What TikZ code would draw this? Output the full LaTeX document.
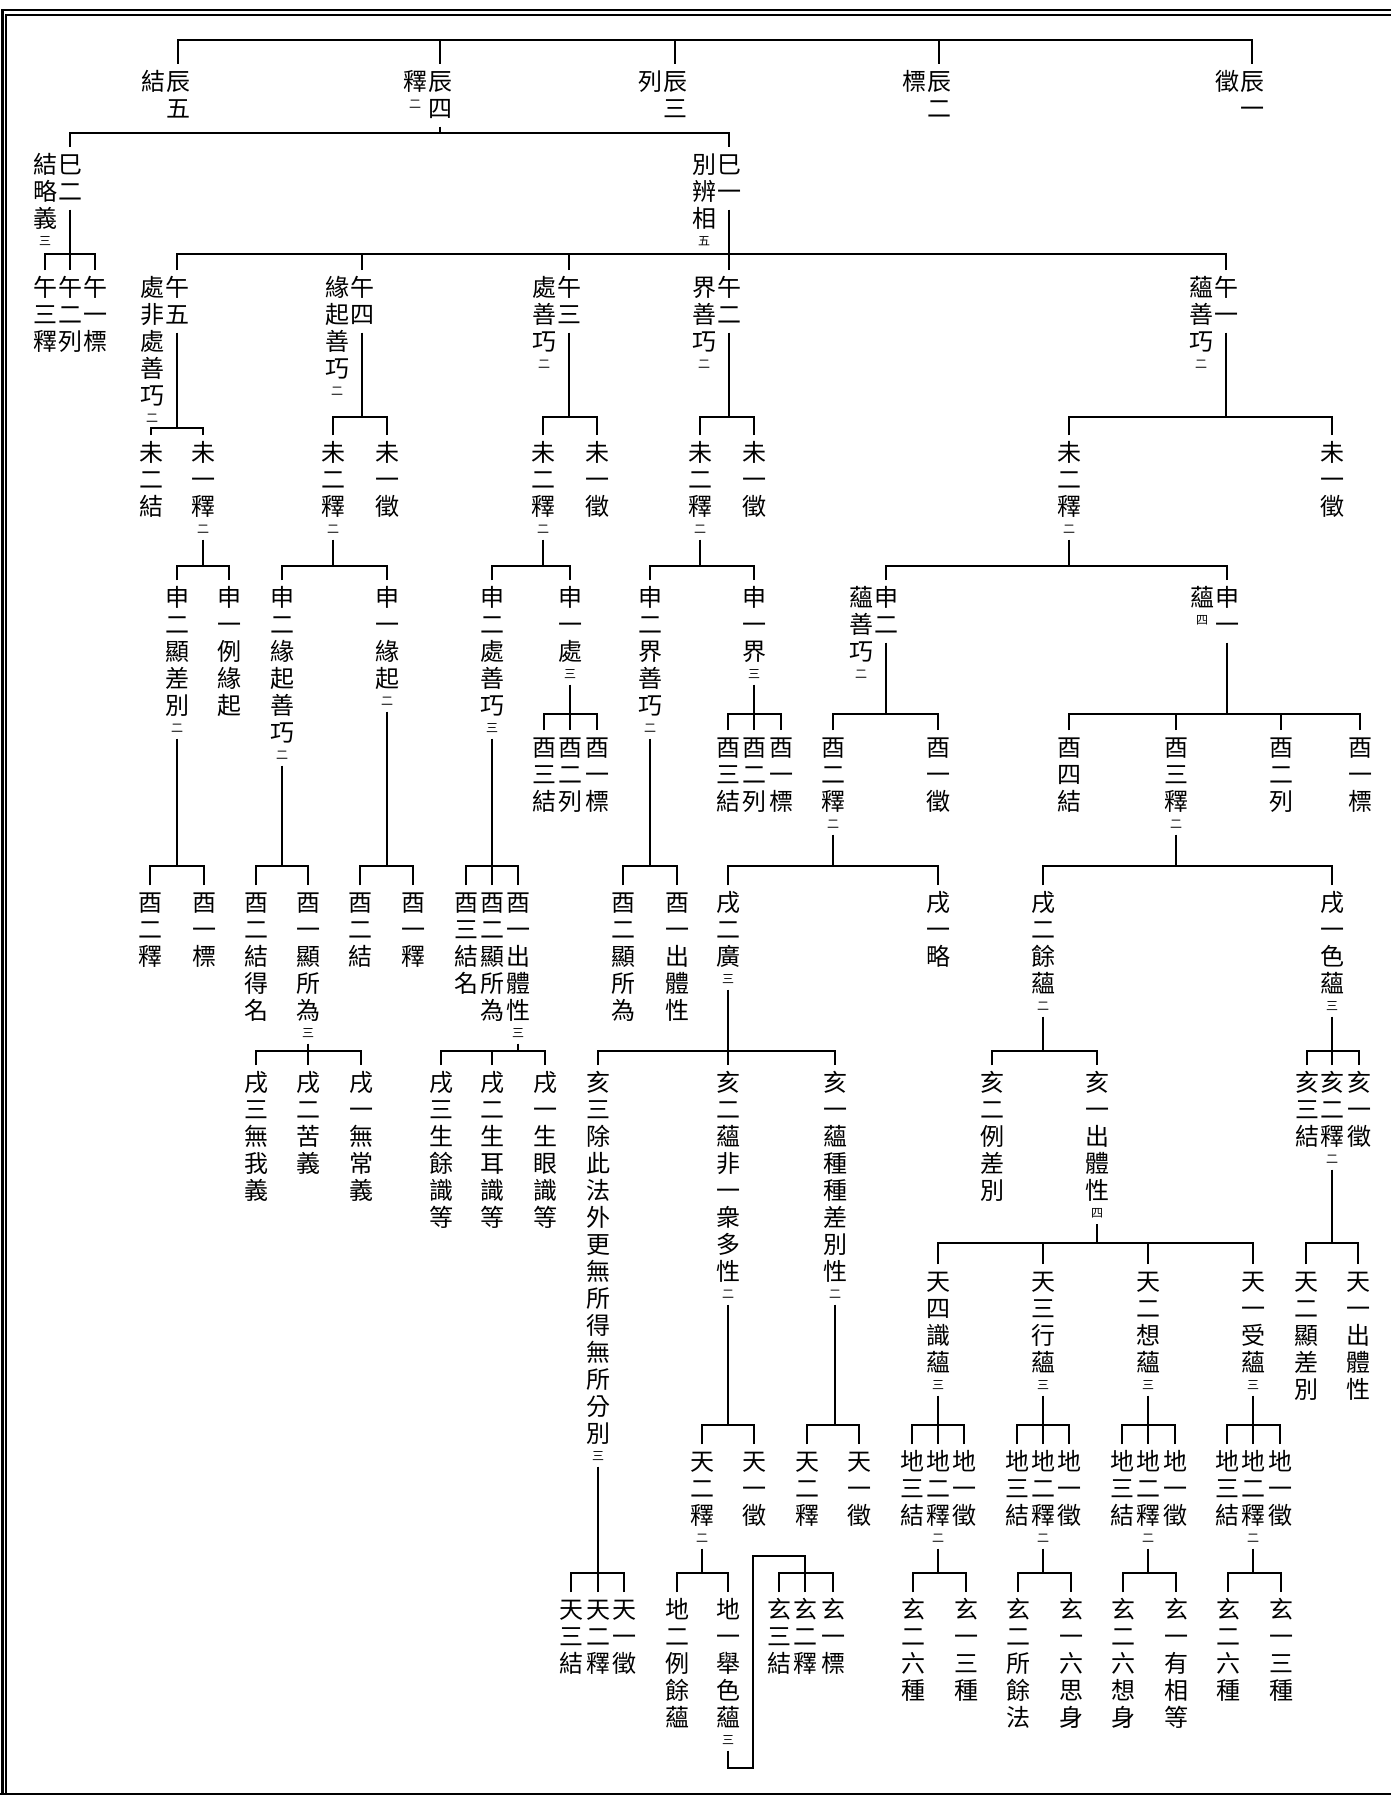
\documentclass[tikz,border=0pt]{standalone}
\usepackage{fontspec}
\setmainfont{Noto Sans CJK TC}

% one vertical column of characters, optional small count below
\def\vcloop#1{\ifx\relax#1\else\hbox to 24pt{\hss\vrule height 21pt depth 3pt width 0pt#1\hss}\expandafter\vcloop\fi}
\newcommand\vcol[2][]{\vbox{\baselineskip=27pt\lineskiplimit=-\maxdimen\lineskip=0pt
  \vcloop#2\relax
  \if\relax\detokenize{#1}\relax\else
    \vskip-9pt\hbox to 24pt{\hss\fontsize{12}{12}\selectfont\vrule height 8pt depth 0pt width 0pt#1\hss}\fi}}
% bar at height #1 with a drop to every child in #2
\newcommand\forkbar[2]{%
  \foreach \kk [count=\kn] in {#2} {\ifnum\kn=1 \xdef\firstk{\kk}\fi\xdef\lastk{\kk}
    \draw (\kk.north) -- (\kk.north |- 0,#1);}
  \draw (\firstk.north) |- (\lastk.north |- 0,#1) -- (\lastk.north);}
\newcommand\fork[3]{\draw (#1.south) -- (#1.south |- 0,#2); \forkbar{#2}{#3}}

\begin{document}
\begin{tikzpicture}[x=1pt, y=-1pt, line width=1.6pt,
  vtext/.style={anchor=north, yshift=18pt, inner xsep=0pt, inner ysep=5pt,
    font=\fontsize{24}{27}\selectfont}]
\useasboundingbox (0,0) rectangle (1391,1795);
% frame
\draw[line width=2.6pt] (2.2,1795) -- (2.2,10) -- (1391,10);
\draw[line width=1.5pt] (6,1795) -- (6,14.8) -- (1391,14.8);
\draw[line width=2.6pt] (0,1793.8) -- (1391,1793.8);

% chen row
\node[vtext] (chen5) at (178,82) {\vcol{辰五}};
\node[vtext] (chen5t) at (153,82) {\vcol{結}};
\node[vtext] (chen4) at (440,82) {\vcol{辰四}};
\node[vtext] (chen4t) at (415,82) {\vcol[二]{釋}};
\node[vtext] (chen3) at (675,82) {\vcol{辰三}};
\node[vtext] (chen3t) at (650,82) {\vcol{列}};
\node[vtext] (chen2) at (939,82) {\vcol{辰二}};
\node[vtext] (chen2t) at (914,82) {\vcol{標}};
\node[vtext] (chen1) at (1252,82) {\vcol{辰一}};
\node[vtext] (chen1t) at (1227,82) {\vcol{徵}};
\forkbar{40}{chen5,chen4,chen3,chen2,chen1}

% si row
\node[vtext] (si2) at (70,165) {\vcol{巳二}};
\node[vtext] (si2t) at (45,165) {\vcol[三]{結略義}};
\node[vtext] (si1) at (729,165) {\vcol{巳一}};
\node[vtext] (si1t) at (704,165) {\vcol[五]{別辨相}};
\fork{chen4}{133}{si2,si1}

% wu row
\node[vtext] (wu23) at (45,288) {\vcol{午三釋}};
\node[vtext] (wu22) at (70,288) {\vcol{午二列}};
\node[vtext] (wu21) at (95,288) {\vcol{午一標}};
\fork{si2}{254}{wu23,wu22,wu21}
\node[vtext] (wu5) at (177,288) {\vcol{午五}};
\node[vtext] (wu5t) at (152,288) {\vcol[二]{處非處善巧}};
\node[vtext] (wu4) at (362,288) {\vcol{午四}};
\node[vtext] (wu4t) at (337,288) {\vcol[二]{緣起善巧}};
\node[vtext] (wu3) at (569,288) {\vcol{午三}};
\node[vtext] (wu3t) at (544,288) {\vcol[二]{處善巧}};
\node[vtext] (wu2) at (729,288) {\vcol{午二}};
\node[vtext] (wu2t) at (704,288) {\vcol[二]{界善巧}};
\node[vtext] (wu1) at (1226,288) {\vcol{午一}};
\node[vtext] (wu1t) at (1201,288) {\vcol[二]{蘊善巧}};
\fork{si1}{254}{wu5,wu4,wu3,wu2,wu1}

% wei row
\node[vtext] (wei52) at (151,453) {\vcol{未二結}};
\node[vtext] (wei51) at (203,453) {\vcol[二]{未一釋}};
\fork{wu5}{428}{wei52,wei51}
\node[vtext] (wei42) at (333,453) {\vcol[二]{未二釋}};
\node[vtext] (wei41) at (387,453) {\vcol{未一徵}};
\fork{wu4}{417}{wei42,wei41}
\node[vtext] (wei32) at (543,453) {\vcol[二]{未二釋}};
\node[vtext] (wei31) at (597,453) {\vcol{未一徵}};
\fork{wu3}{417}{wei32,wei31}
\node[vtext] (wei22) at (700,453) {\vcol[二]{未二釋}};
\node[vtext] (wei21) at (754,453) {\vcol{未一徵}};
\fork{wu2}{417}{wei22,wei21}
\node[vtext] (wei12) at (1069,453) {\vcol[二]{未二釋}};
\node[vtext] (wei11) at (1332,453) {\vcol{未一徵}};
\fork{wu1}{417}{wei12,wei11}

% shen row
\node[vtext] (shen512) at (177,598) {\vcol[二]{申二顯差別}};
\node[vtext] (shen511) at (229,598) {\vcol{申一例緣起}};
\fork{wei51}{566}{shen512,shen511}
\node[vtext] (shen422) at (282,598) {\vcol[二]{申二緣起善巧}};
\node[vtext] (shen421) at (387,598) {\vcol[二]{申一緣起}};
\fork{wei42}{566}{shen422,shen421}
\node[vtext] (shen322) at (492,598) {\vcol[三]{申二處善巧}};
\node[vtext] (shen321) at (570,598) {\vcol[三]{申一處}};
\fork{wei32}{566}{shen322,shen321}
\node[vtext] (shen222) at (650,598) {\vcol[二]{申二界善巧}};
\node[vtext] (shen221) at (754,598) {\vcol[三]{申一界}};
\fork{wei22}{566}{shen222,shen221}
\node[vtext] (shen122) at (886,598) {\vcol{申二}};
\node[vtext] (shen122t) at (861,598) {\vcol[二]{蘊善巧}};
\node[vtext] (shen121) at (1227,598) {\vcol{申一}};
\node[vtext] (shen121t) at (1202,598) {\vcol[四]{蘊}};
\fork{wei12}{566}{shen122,shen121}

% you row, upper
\node[vtext] (you3213) at (544,748) {\vcol{酉三結}};
\node[vtext] (you3212) at (570,748) {\vcol{酉二列}};
\node[vtext] (you3211) at (597,748) {\vcol{酉一標}};
\fork{shen321}{714}{you3213,you3212,you3211}
\node[vtext] (you2213) at (728,748) {\vcol{酉三結}};
\node[vtext] (you2212) at (754,748) {\vcol{酉二列}};
\node[vtext] (you2211) at (781,748) {\vcol{酉一標}};
\fork{shen221}{714}{you2213,you2212,you2211}
\node[vtext] (you1222) at (833,748) {\vcol[二]{酉二釋}};
\node[vtext] (you1221) at (938,748) {\vcol{酉一徵}};
\fork{shen122}{714}{you1222,you1221}
\node[vtext] (you1214) at (1069,748) {\vcol{酉四結}};
\node[vtext] (you1213) at (1176,748) {\vcol[二]{酉三釋}};
\node[vtext] (you1212) at (1281,748) {\vcol{酉二列}};
\node[vtext] (you1211) at (1360,748) {\vcol{酉一標}};
\fork{shen121}{714}{you1214,you1213,you1212,you1211}

% you row, lower
\node[vtext] (you5122) at (150,903) {\vcol{酉二釋}};
\node[vtext] (you5121) at (204,903) {\vcol{酉一標}};
\fork{shen512}{866}{you5122,you5121}
\node[vtext] (you4222) at (256,903) {\vcol{酉二結得名}};
\node[vtext] (you4221) at (308,903) {\vcol[三]{酉一顯所為}};
\fork{shen422}{866}{you4222,you4221}
\node[vtext] (you4212) at (360,903) {\vcol{酉二結}};
\node[vtext] (you4211) at (413,903) {\vcol{酉一釋}};
\fork{shen421}{866}{you4212,you4211}
\node[vtext] (you3223) at (466,903) {\vcol{酉三結名}};
\node[vtext] (you3222) at (492,903) {\vcol{酉二顯所為}};
\node[vtext] (you3221) at (518,903) {\vcol[三]{酉一出體性}};
\fork{shen322}{866}{you3223,you3222,you3221}
\node[vtext] (you2222) at (623,903) {\vcol{酉二顯所為}};
\node[vtext] (you2221) at (677,903) {\vcol{酉一出體性}};
\fork{shen222}{866}{you2222,you2221}

% xu row
\node[vtext] (xu12222) at (728,903) {\vcol[三]{戌二廣}};
\node[vtext] (xu12221) at (938,903) {\vcol{戌一略}};
\fork{you1222}{866}{xu12222,xu12221}
\node[vtext] (xu12132) at (1043,903) {\vcol[二]{戌二餘蘊}};
\node[vtext] (xu12131) at (1332,903) {\vcol[三]{戌一色蘊}};
\fork{you1213}{866}{xu12132,xu12131}
\node[vtext] (xu42213) at (256,1083) {\vcol{戌三無我義}};
\node[vtext] (xu42212) at (308,1083) {\vcol{戌二苦義}};
\node[vtext] (xu42211) at (361,1083) {\vcol{戌一無常義}};
\fork{you4221}{1051}{xu42213,xu42212,xu42211}
\node[vtext] (xu32213) at (441,1083) {\vcol{戌三生餘識等}};
\node[vtext] (xu32212) at (492,1083) {\vcol{戌二生耳識等}};
\node[vtext] (xu32211) at (545,1083) {\vcol{戌一生眼識等}};
\fork{you3221}{1051}{xu32213,xu32212,xu32211}

% hai row
\node[vtext] (hai3) at (598,1083) {\vcol[三]{亥三除此法外更無所得無所分別}};
\node[vtext] (hai2) at (728,1083) {\vcol[二]{亥二蘊非一衆多性}};
\node[vtext] (hai1) at (835,1083) {\vcol[二]{亥一蘊種種差別性}};
\fork{xu12222}{1051}{hai3,hai2,hai1}
\node[vtext] (hai1322) at (992,1083) {\vcol{亥二例差別}};
\node[vtext] (hai1321) at (1097,1083) {\vcol[四]{亥一出體性}};
\fork{xu12132}{1051}{hai1322,hai1321}
\node[vtext] (hai1313) at (1307,1083) {\vcol{亥三結}};
\node[vtext] (hai1312) at (1332,1083) {\vcol[二]{亥二釋}};
\node[vtext] (hai1311) at (1359,1083) {\vcol{亥一徵}};
\fork{xu12131}{1051}{hai1313,hai1312,hai1311}

% tian row
\node[vtext] (tian4) at (938,1282) {\vcol[三]{天四識蘊}};
\node[vtext] (tian3) at (1043,1282) {\vcol[三]{天三行蘊}};
\node[vtext] (tian2) at (1148,1282) {\vcol[三]{天二想蘊}};
\node[vtext] (tian1) at (1253,1282) {\vcol[三]{天一受蘊}};
\fork{hai1321}{1243}{tian4,tian3,tian2,tian1}
\node[vtext] (tianb2) at (1306,1282) {\vcol{天二顯差別}};
\node[vtext] (tianb1) at (1358,1282) {\vcol{天一出體性}};
\fork{hai1312}{1243}{tianb2,tianb1}
\node[vtext] (tianc2) at (702,1462) {\vcol[二]{天二釋}};
\node[vtext] (tianc1) at (754,1462) {\vcol{天一徵}};
\fork{hai2}{1425}{tianc2,tianc1}
\node[vtext] (tiand2) at (807,1462) {\vcol{天二釋}};
\node[vtext] (tiand1) at (859,1462) {\vcol{天一徵}};
\fork{hai1}{1425}{tiand2,tiand1}
\node[vtext] (tiane3) at (571,1610) {\vcol{天三結}};
\node[vtext] (tiane2) at (598,1610) {\vcol{天二釋}};
\node[vtext] (tiane1) at (624,1610) {\vcol{天一徵}};
\fork{hai3}{1573}{tiane3,tiane2,tiane1}

% di row
\node[vtext] (di43) at (912,1462) {\vcol{地三結}};
\node[vtext] (di42) at (938,1462) {\vcol[二]{地二釋}};
\node[vtext] (di41) at (964,1462) {\vcol{地一徵}};
\fork{tian4}{1425}{di43,di42,di41}
\node[vtext] (di33) at (1017,1462) {\vcol{地三結}};
\node[vtext] (di32) at (1043,1462) {\vcol[二]{地二釋}};
\node[vtext] (di31) at (1069,1462) {\vcol{地一徵}};
\fork{tian3}{1425}{di33,di32,di31}
\node[vtext] (di23) at (1122,1462) {\vcol{地三結}};
\node[vtext] (di22) at (1148,1462) {\vcol[二]{地二釋}};
\node[vtext] (di21) at (1175,1462) {\vcol{地一徵}};
\fork{tian2}{1425}{di23,di22,di21}
\node[vtext] (di13) at (1227,1462) {\vcol{地三結}};
\node[vtext] (di12) at (1253,1462) {\vcol[二]{地二釋}};
\node[vtext] (di11) at (1280,1462) {\vcol{地一徵}};
\fork{tian1}{1425}{di13,di12,di11}
\node[vtext] (dic2) at (677,1610) {\vcol{地二例餘蘊}};
\node[vtext] (dic1) at (728,1610) {\vcol[三]{地一舉色蘊}};
\fork{tianc2}{1573}{dic2,dic1}

% xuan row
\node[vtext] (xuanc3) at (779,1610) {\vcol{玄三結}};
\node[vtext] (xuanc2) at (805,1610) {\vcol{玄二釋}};
\node[vtext] (xuanc1) at (833,1610) {\vcol{玄一標}};
\forkbar{1573}{xuanc3,xuanc2,xuanc1}
\coordinate (jog) at (753,1768);
\draw (dic1.south) |- (jog) |- (xuanc2.north |- 0,1556) -- (xuanc2.north);
\node[vtext] (xuan42) at (913,1610) {\vcol{玄二六種}};
\node[vtext] (xuan41) at (966,1610) {\vcol{玄一三種}};
\fork{di42}{1573}{xuan42,xuan41}
\node[vtext] (xuan32) at (1018,1610) {\vcol{玄二所餘法}};
\node[vtext] (xuan31) at (1071,1610) {\vcol{玄一六思身}};
\fork{di32}{1573}{xuan32,xuan31}
\node[vtext] (xuan22) at (1123,1610) {\vcol{玄二六想身}};
\node[vtext] (xuan21) at (1176,1610) {\vcol{玄一有相等}};
\fork{di22}{1573}{xuan22,xuan21}
\node[vtext] (xuan12) at (1228,1610) {\vcol{玄二六種}};
\node[vtext] (xuan11) at (1281,1610) {\vcol{玄一三種}};
\fork{di12}{1573}{xuan12,xuan11}
\end{tikzpicture}
\end{document}
